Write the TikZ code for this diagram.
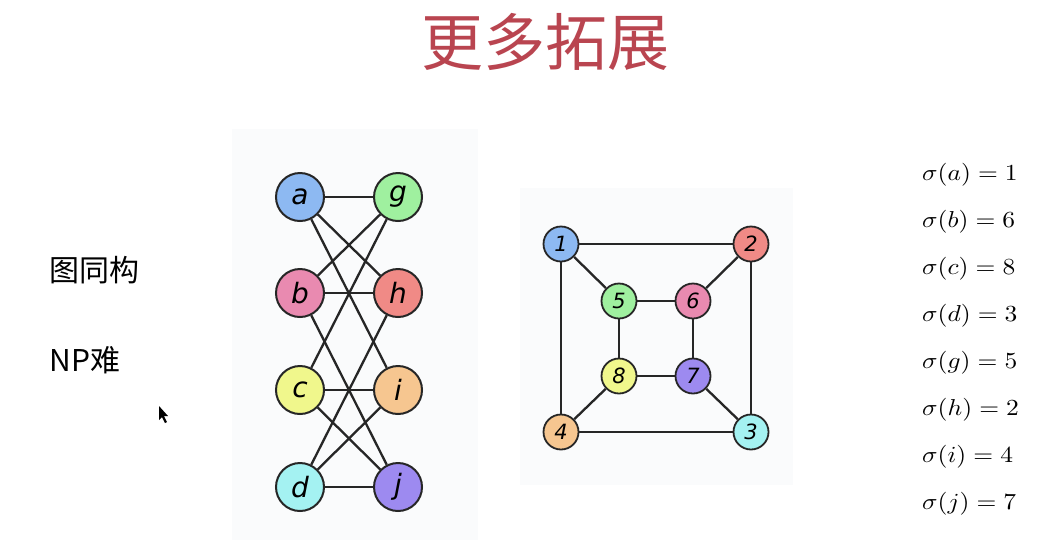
\documentclass[tikz,border=0pt]{standalone}
\usepackage{fontspec}
\newfontfamily\cjk{Noto Sans CJK SC}
\newfontfamily\dvs{DejaVu Sans}
\definecolor{titlered}{HTML}{B94550}
\definecolor{panelbg}{HTML}{FAFBFC}
\definecolor{cblue}{HTML}{8DB9F2}
\definecolor{cgreen}{HTML}{9FF09F}
\definecolor{cpink}{HTML}{E98AB0}
\definecolor{cred}{HTML}{F08A86}
\definecolor{cyellow}{HTML}{F0F78C}
\definecolor{corange}{HTML}{F6C690}
\definecolor{ccyan}{HTML}{A4F2F2}
\definecolor{cpurple}{HTML}{9D8AF0}
\newcommand{\sigline}[1]{\scalebox{2.55}[2.3]{$#1$}}
\tikzset{
  big/.style={circle, draw=black!85, line width=2pt, minimum size=48pt, inner sep=0pt, font=\dvs\itshape\fontsize{28}{28}\selectfont},
  small/.style={circle, draw=black!85, line width=1.8pt, minimum size=35pt, inner sep=0pt, font=\dvs\itshape\fontsize{21}{21}\selectfont},
  edge/.style={line width=2.3pt, black!85},
  sig/.style={anchor=west, inner sep=0pt},
}
\begin{document}
\begin{tikzpicture}[x=1pt,y=-1pt]
\useasboundingbox (0,0) rectangle (1055,542);
\fill[white] (0,0) rectangle (1055,542);
% title
\node[text=titlered, font=\cjk\fontsize{62}{62}\selectfont] (title) at (545,42) {更多拓展};
% left texts
\node[anchor=west, font=\cjk\fontsize{30}{30}\selectfont] (iso) at (46,270) {图同构};
\node[anchor=west, font=\cjk\fontsize{30}{30}\selectfont] (np) at (46,360) {NP难};
% cursor
\fill[black] (159,406) -- (159,420) -- (162,417) -- (165,423) -- (167,422) -- (164,416) -- (168,416) -- cycle;
% panels
\fill[panelbg] (232,129) rectangle (478,540);
\fill[panelbg] (520,188) rectangle (793,485);
% left graph
\node[big, fill=cblue] (a) at (300,197) {a};
\node[big, fill=cgreen] (g) at (398,197) {g};
\node[big, fill=cpink] (b) at (300,293) {b};
\node[big, fill=cred] (h) at (398,293) {h};
\node[big, fill=cyellow] (c) at (300,390) {c};
\node[big, fill=corange] (i) at (398,390) {i};
\node[big, fill=ccyan] (d) at (300,487) {d};
\node[big, fill=cpurple] (j) at (398,487) {j};
\draw[edge] (a) -- (g);
\draw[edge] (a) -- (h);
\draw[edge] (a) -- (i);
\draw[edge] (b) -- (g);
\draw[edge] (b) -- (h);
\draw[edge] (b) -- (j);
\draw[edge] (c) -- (g);
\draw[edge] (c) -- (i);
\draw[edge] (c) -- (j);
\draw[edge] (d) -- (h);
\draw[edge] (d) -- (i);
\draw[edge] (d) -- (j);
% right graph
\node[small, fill=cblue] (n1) at (561,244) {1};
\node[small, fill=cred] (n2) at (751,244) {2};
\node[small, fill=ccyan] (n3) at (751,432) {3};
\node[small, fill=corange] (n4) at (561,432) {4};
\node[small, fill=cgreen] (n5) at (619,301) {5};
\node[small, fill=cpink] (n6) at (693,301) {6};
\node[small, fill=cpurple] (n7) at (693,376) {7};
\node[small, fill=cyellow] (n8) at (619,376) {8};
\draw[edge] (n1) -- (n2);
\draw[edge] (n1) -- (n4);
\draw[edge] (n1) -- (n5);
\draw[edge] (n2) -- (n3);
\draw[edge] (n2) -- (n6);
\draw[edge] (n3) -- (n4);
\draw[edge] (n3) -- (n7);
\draw[edge] (n4) -- (n8);
\draw[edge] (n5) -- (n6);
\draw[edge] (n5) -- (n8);
\draw[edge] (n6) -- (n7);
\draw[edge] (n7) -- (n8);
% sigma list
\node[sig] (s1) at (922,175) {\sigline{\sigma(a) = 1}};
\node[sig] (s2) at (922,222) {\sigline{\sigma(b) = 6}};
\node[sig] (s3) at (922,269) {\sigline{\sigma(c) = 8}};
\node[sig] (s4) at (922,316) {\sigline{\sigma(d) = 3}};
\node[sig] (s5) at (922,363) {\sigline{\sigma(g) = 5}};
\node[sig] (s6) at (922,410) {\sigline{\sigma(h) = 2}};
\node[sig] (s7) at (922,457) {\sigline{\sigma(i) = 4}};
\node[sig] (s8) at (922,504) {\sigline{\sigma(j) = 7}};
\end{tikzpicture}
\end{document}
